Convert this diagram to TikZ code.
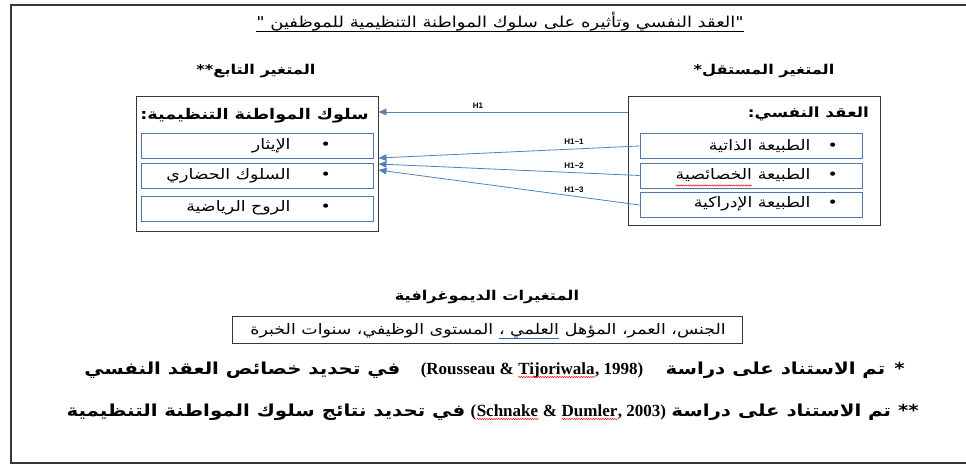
\documentclass[tikz,border=0pt]{standalone}
\usepackage{fontspec}
\setmainfont{Liberation Serif}
\newfontfamily\ar[Script=Arabic,FakeStretch=1.2]{DejaVu Sans}
\newfontfamily\hfont{Liberation Sans}
\newcommand\latinfnfont{\rmfamily\bfseries\fontsize{17}{19}\selectfont}
\TeXXeTstate=1
\usetikzlibrary{arrows.meta,decorations.pathmorphing}
\definecolor{arrowblue}{RGB}{79,129,189}
\definecolor{itemblue}{RGB}{84,118,165}
\definecolor{framegray}{RGB}{55,55,55}
\definecolor{grammarblue}{RGB}{60,90,200}
\begin{document}
\begin{tikzpicture}[x=1pt,y=-1pt,
  outerbox/.style={draw=framegray, line width=0.9pt, rectangle, inner sep=0pt},
  itembox/.style={draw=itemblue, line width=0.9pt, rectangle, inner sep=0pt, minimum height=25pt},
  titletext/.style={font=\ar\fontsize{15}{17}\selectfont, inner sep=0pt},
  artext/.style={font=\ar\fontsize{14.5}{17}\selectfont, inner sep=0pt},
  arbold/.style={font=\ar\bfseries\fontsize{14}{17}\selectfont, inner sep=0pt},
  headbold/.style={font=\ar\bfseries\fontsize{13.5}{17}\selectfont, inner sep=0pt},
  fnote/.style={font=\ar\bfseries\fontsize{16.5}{19}\selectfont, inner sep=0pt},
  fnlatin/.style={font=\latinfnfont, inner sep=0pt},
  arr/.style={draw=arrowblue, line width=0.8pt, -{Triangle[length=8pt,width=6.5pt]}},
  hlabel/.style={font=\hfont\bfseries\fontsize{8}{9}\selectfont, inner sep=0pt},
  spellmark/.style={draw=red, line width=0.5pt, decorate, decoration={snake, amplitude=0.6pt, segment length=2.4pt}},
  grammark/.style={draw=grammarblue, line width=0.7pt}]
\useasboundingbox (0,0) rectangle (966,466);
% outer frame
\draw[framegray, line width=1.3pt] (966,5) -- (11,5) -- (11,463) -- (966,463);

% title
\node[titletext] (title) at (500,22) {\beginR\hbox{"}العقد النفسي وتأثيره على سلوك المواطنة التنظيمية للموظفين \hbox{"}\endR};
\draw[black, line width=0.7pt] ([yshift=-3pt]title.base west) -- ([yshift=-3pt]title.base east);

% headings
\node[headbold] (dep) at (256,71) {\beginR المتغير التابع\hbox{**}\endR};
\node[headbold] (ind) at (764,71) {\beginR المتغير المستقل\hbox{*}\endR};

% left box
\node[outerbox, minimum width=242pt, minimum height=135pt] (L) at (257,163.5) {};
\node[arbold, font=\ar\bfseries\fontsize{14.7}{17}\selectfont, anchor=east] (Lt) at (369,116) {\beginR سلوك المواطنة التنظيمية\hbox{:}\endR};
\node[itembox, minimum width=232pt] (l1) at (257,145.5) {};
\node[itembox, minimum width=232pt] (l2) at (257,176) {};
\node[itembox, minimum width=232pt] (l3) at (257,208.5) {};
\node[artext, anchor=east] (l1t) at (331,146) {\beginR •\hspace{30pt}الإيثار\endR};
\node[artext, anchor=east] (l2t) at (331,176) {\beginR •\hspace{30pt}السلوك الحضاري\endR};
\node[artext, anchor=east] (l3t) at (331,208) {\beginR •\hspace{30pt}الروح الرياضية\endR};

% right box
\node[outerbox, minimum width=252pt, minimum height=129pt] (R) at (754,160.5) {};
\node[arbold, anchor=east] (Rt) at (869,114) {\beginR العقد النفسي\hbox{:}\endR};
\node[itembox, minimum width=222pt] (r1) at (751,146) {};
\node[itembox, minimum width=222pt] (r2) at (751,175.5) {};
\node[itembox, minimum width=222pt] (r3) at (751,205) {};
\node[artext, anchor=east] (r1t) at (838,146) {\beginR •\hspace{17pt}الطبيعة الذاتية\endR};
\node[artext, anchor=east] (r2t) at (838,175) {\beginR •\hspace{17pt}الطبيعة\endR};
\node[artext, anchor=base east] (r2w) at ([xshift=-5.5pt]r2t.base west) {الخصائصية};
\draw[spellmark] ([yshift=-6pt]r2w.base west) -- ([yshift=-6pt]r2w.base east);
\node[artext, anchor=east] (r3t) at (838,204) {\beginR •\hspace{17pt}الطبيعة الإدراكية\endR};

% arrow end points on the left box
\coordinate (e0) at (L.east |- 0,112);
\coordinate (e1) at (L.east |- 0,158);
\coordinate (e2) at (L.east |- 0,164);
\coordinate (e3) at (L.east |- 0,170);
\coordinate (s0) at (R.west |- 0,112);
\draw[arr] (s0) -- (e0);
\draw[arr] (r1.west) -- (e1);
\draw[arr] (r2.west) -- (e2);
\draw[arr] (r3.west) -- (e3);
\node[hlabel] (h0) at (478,106) {H1};
\node[hlabel] (h1) at (574,142) {H1−1};
\node[hlabel] (h2) at (574,166) {H1−2};
\node[hlabel] (h3) at (574,190) {H1−3};

% demographics
\node[headbold] (demt) at (487,297) {\beginR المتغيرات الديموغرافية\endR};
\node[outerbox, minimum width=510pt, minimum height=27pt] (dem) at (487,330) {};
\node[artext, anchor=base east] (d1) at (726,334) {\beginR الجنس، العمر، المؤهل\endR};
\node[artext, anchor=base east] (d2) at ([xshift=-5.5pt]d1.base west) {\beginR العلمي ،\endR};
\node[artext, anchor=base east] (d3) at ([xshift=-5.5pt]d2.base west) {\beginR المستوى الوظيفي، سنوات الخبرة\endR};
\draw[grammark] ([yshift=-4.5pt]d2.base west) -- ([yshift=-4.5pt]d2.base east);

% footnote 1
\node[fnote, anchor=base east] (f1a) at (905,374) {\beginR\hbox{*}\hspace{9pt}تم الاستناد على دراسة\endR};
\node[fnlatin, anchor=base east] (f1b) at ([xshift=-22pt]f1a.base west) {, 1998)};
\node[fnlatin, anchor=base east] (f1c) at (f1b.base west) {Tijoriwala};
\node[fnlatin, anchor=base east] (f1d) at ([xshift=-4.25pt]f1c.base west) {(Rousseau \&};
\node[fnote, anchor=base east] (f1e) at ([xshift=-20pt]f1d.base west) {\beginR في تحديد خصائص العقد النفسي\endR};
\draw[spellmark] ([yshift=-3pt]f1c.base west) -- ([yshift=-3pt]f1c.base east);

% footnote 2
\node[fnote, anchor=base east] (f2a) at (919,416) {\beginR\hbox{**}\ تم الاستناد على دراسة\endR};
\node[fnlatin, anchor=base east] (f2b) at ([xshift=-5pt]f2a.base west) {, 2003)};
\node[fnlatin, anchor=base east] (f2c) at (f2b.base west) {Dumler};
\node[fnlatin, anchor=base east] (f2d) at ([xshift=-4.25pt]f2c.base west) {\&};
\node[fnlatin, anchor=base east] (f2e) at ([xshift=-4.25pt]f2d.base west) {Schnake};
\node[fnlatin, anchor=base east] (f2f) at (f2e.base west) {(};
\node[fnote, anchor=base east] (f2g) at ([xshift=-5pt]f2f.base west) {\beginR في تحديد نتائج سلوك المواطنة التنظيمية\endR};
\draw[spellmark] ([yshift=-3pt]f2c.base west) -- ([yshift=-3pt]f2c.base east);
\draw[spellmark] ([yshift=-3pt]f2e.base west) -- ([yshift=-3pt]f2e.base east);
\end{tikzpicture}
\end{document}
